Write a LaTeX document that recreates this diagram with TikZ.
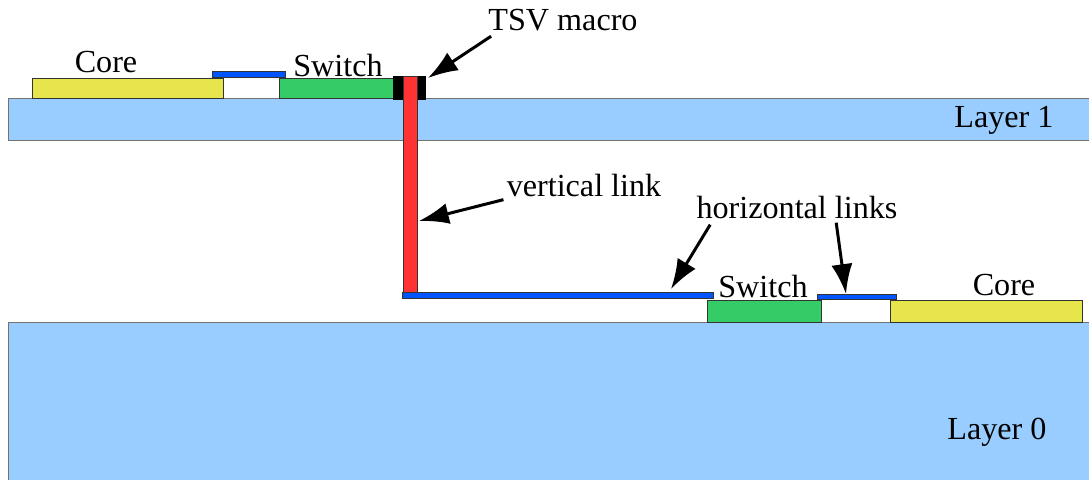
\documentclass[tikz,border=0pt]{standalone}
\usepackage{fontspec}
\setmainfont{Liberation Serif}
\usepackage{xcolor}
\usetikzlibrary{arrows.meta}
\definecolor{slab}{RGB}{153,204,255}
\definecolor{corefill}{RGB}{230,230,76}
\definecolor{swfill}{RGB}{51,204,102}
\definecolor{linkfill}{RGB}{0,85,255}
\definecolor{tsvfill}{RGB}{255,51,51}

\begin{document}
\begin{tikzpicture}[x=0.02cm,y=-0.02cm,
    lbl/.style={font=\rmfamily\fontsize{18.3}{21}\selectfont,inner sep=0pt},
    part/.style={draw=black!80,line width=0.5pt},
    pointer/.style={line width=1.7pt,-{Latex[length=17pt,width=12pt]}}]
  \useasboundingbox (0,0) rectangle (1089,480);
  % the two layers
  \draw[part,draw=black!55,fill=slab] (8,98) rectangle (1095,140);
  \draw[part,draw=black!55,fill=slab] (8,322) rectangle (1095,486);
  \node[lbl] (layerone) at (1004,120) {Layer 1};
  \node[lbl] (layerzero) at (997,432) {Layer 0};
  % layer 1: core, link, switch
  \draw[part,fill=corefill] (32,78) rectangle (223,98);
  \draw[part,fill=linkfill] (212,71) rectangle (285,77);
  \draw[part,fill=swfill] (279,78) rectangle (395,98);
  \node[lbl] (coreone) at (106,62) {Core};
  \node[lbl] (swone) at (338,66) {Switch};
  % tsv and vertical link
  \fill[black] (393,76) rectangle (426,100);
  \draw[part,fill=tsvfill] (403,76) rectangle (417,292);
  \coordinate (tsvtip) at (428,78);
  \coordinate (vtip) at (419,221);
  % layer 0: long link, switch, link, core
  \draw[part,fill=linkfill] (402,292) rectangle (713,298);
  \draw[part,fill=swfill] (707,300) rectangle (821,322);
  \draw[part,fill=linkfill] (817,294) rectangle (896,299);
  \draw[part,fill=corefill] (890,300) rectangle (1082,322);
  \node[lbl] (swzero) at (763,286) {Switch};
  \node[lbl] (corezero) at (1004,285) {Core};
  \coordinate (htipa) at (671,289);
  \coordinate (htipb) at (846,294);
  % labels with pointers
  \node[lbl] (tsvlbl) at (563,20) {TSV macro};
  \node[lbl] (vlbl) at (584,186) {vertical link};
  \node[lbl] (hlbl) at (797,208) {horizontal links};
  \draw[pointer] ([shift={(3,5)}]tsvlbl.south west) -- (tsvtip);
  \draw[pointer] ([shift={(-3,2)}]vlbl.south west) -- (vtip);
  \draw[pointer] ([shift={(14,5)}]hlbl.south west) -- (htipa);
  \draw[pointer] ([shift={(140,3)}]hlbl.south west) -- (htipb);
\end{tikzpicture}
\end{document}
